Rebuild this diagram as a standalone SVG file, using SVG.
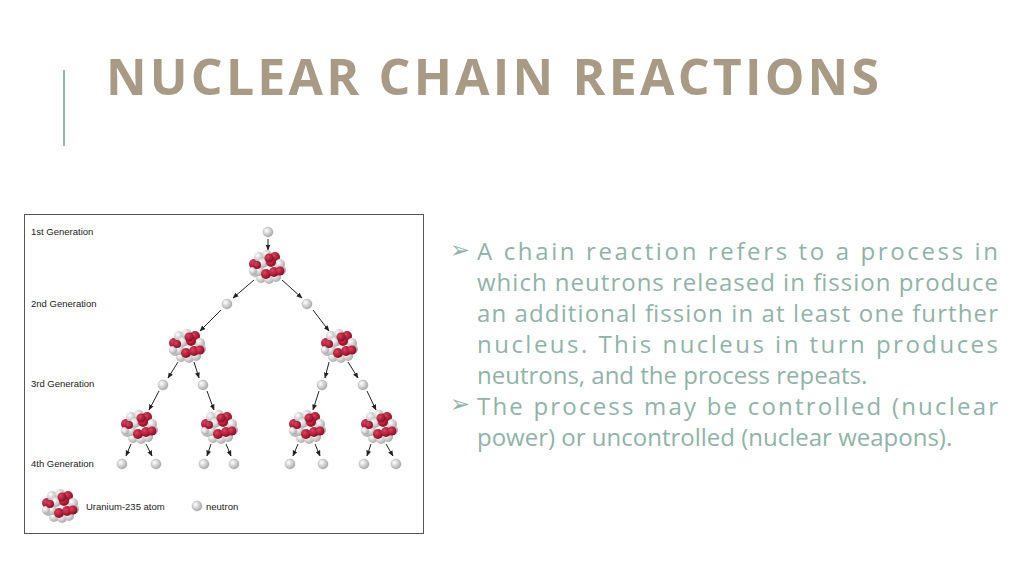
<svg xmlns="http://www.w3.org/2000/svg" width="1024" height="575" viewBox="0 0 1024 575">
<style>
.gen{font-family:"Liberation Sans",Arial,sans-serif;font-size:9.5px;fill:#222}
.bul{font-family:"Open Sans","Noto Sans",sans-serif;font-size:24px;fill:#8fb3a8}
.arr{stroke:#222;stroke-width:1;marker-end:url(#ah)}
</style>
<defs>
<marker id="ah" viewBox="0 0 10 10" refX="9" refY="5" markerWidth="6" markerHeight="6" orient="auto"><path d="M0,1 L10,5 L0,9 Z" fill="#222"/></marker>
<radialGradient id="gw" cx="0.35" cy="0.35" r="0.7"><stop offset="0" stop-color="#fff"/><stop offset="1" stop-color="#a8a8a8"/></radialGradient>
<radialGradient id="gr" cx="0.35" cy="0.35" r="0.7"><stop offset="0" stop-color="#e04060"/><stop offset="1" stop-color="#8a0a20"/></radialGradient>
<symbol id="atom" viewBox="-18 -18 36 36" width="36" height="36" overflow="visible">
<circle cx="-6" cy="11" r="5" fill="url(#gw)"/><circle cx="2" cy="12" r="5" fill="url(#gw)"/><circle cx="9" cy="10" r="5" fill="url(#gw)"/>
<circle cx="-12" cy="5" r="5" fill="url(#gw)"/><circle cx="14" cy="3" r="5" fill="url(#gw)"/>
<circle cx="-13" cy="-3" r="5" fill="url(#gr)"/><circle cx="-8" cy="-10" r="5" fill="url(#gw)"/><circle cx="0" cy="-12" r="5" fill="url(#gw)"/><circle cx="8" cy="-10" r="5" fill="url(#gr)"/><circle cx="13" cy="-3" r="5" fill="url(#gw)"/>
<circle cx="-8" cy="4" r="5" fill="url(#gw)"/><circle cx="-4" cy="-4" r="5" fill="url(#gw)"/><circle cx="4" cy="-5" r="5" fill="url(#gr)"/>
<circle cx="-1" cy="7" r="5" fill="url(#gr)"/><circle cx="7" cy="5" r="5" fill="url(#gr)"/><circle cx="13" cy="4" r="4.5" fill="url(#gr)"/>
<circle cx="-14" cy="4" r="4" fill="url(#gw)"/><circle cx="-10" cy="-2" r="4" fill="url(#gr)"/><circle cx="2" cy="-9" r="4.5" fill="url(#gr)"/>
</symbol>
<circle id="n" r="5" fill="url(#gw)" stroke="#888" stroke-width="0.3"/>
</defs>
<rect width="1024" height="575" fill="#fff"/>
<g id="title"><line x1="64" y1="70" x2="64" y2="146" stroke="#8fb5aa" stroke-width="2"/>
<text x="106" y="95" font-family="'Open Sans','Noto Sans',sans-serif" font-weight="bold" font-size="50" fill="#a89a84" letter-spacing="1" textLength="774">NUCLEAR CHAIN REACTIONS</text></g>
<g id="figure">
<rect x="24.5" y="214.5" width="399" height="319" fill="#fff" stroke="#555" stroke-width="1"/>
<text class="gen" x="31" y="235">1st Generation</text>
<text class="gen" x="31" y="307">2nd Generation</text>
<text class="gen" x="31" y="387">3rd Generation</text>
<text class="gen" x="31" y="467">4th Generation</text>
<g id="connectors">
<line class="arr" x1="268" y1="239" x2="268" y2="250"/>
<line class="arr" x1="254" y1="280" x2="233" y2="298"/>
<line class="arr" x1="282" y1="280" x2="302" y2="298"/>
<line class="arr" x1="221" y1="310" x2="200" y2="331"/>
<line class="arr" x1="313" y1="310" x2="329" y2="331"/>
<line class="arr" x1="178" y1="362" x2="168" y2="378"/>
<line class="arr" x1="194" y1="362" x2="199" y2="378"/>
<line class="arr" x1="329" y1="362" x2="325" y2="378"/>
<line class="arr" x1="348" y1="362" x2="358" y2="378"/>
<line class="arr" x1="159" y1="391" x2="149" y2="410"/>
<line class="arr" x1="207" y1="391" x2="214" y2="410"/>
<line class="arr" x1="319" y1="391" x2="313" y2="410"/>
<line class="arr" x1="367" y1="391" x2="376" y2="410"/>
<line class="arr" x1="131" y1="444" x2="126" y2="456"/>
<line class="arr" x1="146" y1="444" x2="152" y2="456"/>
<line class="arr" x1="211" y1="444" x2="207" y2="456"/>
<line class="arr" x1="226" y1="444" x2="231" y2="456"/>
<line class="arr" x1="298" y1="444" x2="293" y2="456"/>
<line class="arr" x1="315" y1="444" x2="320" y2="456"/>
<line class="arr" x1="371" y1="444" x2="367" y2="456"/>
<line class="arr" x1="386" y1="444" x2="393" y2="456"/>
</g>
<g id="neutrons">
<use href="#n" x="268" y="232"/><use href="#n" x="227" y="304"/><use href="#n" x="307" y="304"/>
<use href="#n" x="163" y="385"/><use href="#n" x="203" y="385"/><use href="#n" x="322" y="385"/><use href="#n" x="363" y="385"/>
<use href="#n" x="122" y="464"/><use href="#n" x="156" y="464"/><use href="#n" x="204" y="464"/><use href="#n" x="234" y="464"/>
<use href="#n" x="290" y="464"/><use href="#n" x="323" y="464"/><use href="#n" x="364" y="464"/><use href="#n" x="396" y="464"/>
</g>
<g id="atoms">
<use href="#atom" x="249" y="249"/>
<use href="#atom" x="169" y="328"/><use href="#atom" x="321" y="328"/>
<use href="#atom" x="121" y="409"/><use href="#atom" x="201" y="409"/><use href="#atom" x="289" y="409"/><use href="#atom" x="361" y="409"/>
</g>
<g id="legend">
<use href="#atom" x="42" y="488"/>
<text class="gen" x="86" y="510">Uranium-235 atom</text>
<use href="#n" x="197" y="506"/>
<text class="gen" x="206" y="510">neutron</text>
</g>
</g>
<g id="bullets">
<text class="bul" x="450" y="258" font-family="'DejaVu Sans',sans-serif" font-size="18">➢</text>
<text class="bul" x="450" y="412" font-family="'DejaVu Sans',sans-serif" font-size="18">➢</text>
<text class="bul" x="477" y="260" textLength="521" lengthAdjust="spacing">A chain reaction refers to a process in</text>
<text class="bul" x="477" y="291" textLength="521" lengthAdjust="spacing">which neutrons released in fission produce</text>
<text class="bul" x="477" y="322" textLength="521" lengthAdjust="spacing">an additional fission in at least one further</text>
<text class="bul" x="477" y="353" textLength="521" lengthAdjust="spacing">nucleus. This nucleus in turn produces</text>
<text class="bul" x="477" y="384">neutrons, and the process repeats.</text>
<text class="bul" x="477" y="415" textLength="521" lengthAdjust="spacing">The process may be controlled (nuclear</text>
<text class="bul" x="477" y="446">power) or uncontrolled (nuclear weapons).</text>
</g>
</svg>
